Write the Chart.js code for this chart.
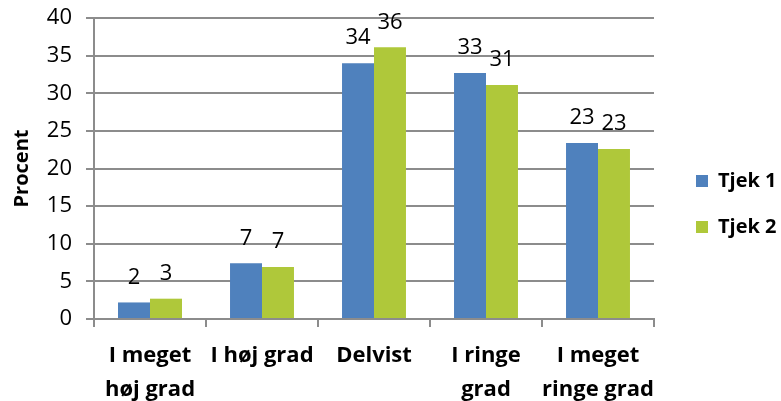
<!DOCTYPE html>
<html>
<head>
<meta charset="utf-8">
<script src="https://cdn.jsdelivr.net/npm/chart.js@4/dist/chart.umd.min.js"></script>
<style>
html,body{margin:0;padding:0;background:#fff;}
#wrap{width:781px;height:401px;position:relative;}
</style>
</head>
<body>
<div id="wrap"><canvas id="c" width="781" height="401"></canvas></div>
<script>
const categories = [["I meget", "høj grad"], "I høj grad", "Delvist", ["I ringe", "grad"], ["I meget", "ringe grad"]];
const seriesNames = ["Tjek 1", "Tjek 2"];
const tjek1 = [2.2, 7.4, 34.0, 32.7, 23.4];
const tjek2 = [2.7, 6.9, 36.1, 31.1, 22.6];
const yTicks = [0, 5, 10, 15, 20, 25, 30, 35, 40];
const yTitle = "Procent";

const FONT = "'Open Sans', 'Liberation Sans', sans-serif";
const GRID = '#8c8c8c';

const valueLabels = {
  id: 'valueLabels',
  afterDatasetsDraw(chart) {
    const ctx = chart.ctx;
    ctx.save();
    ctx.font = '22px ' + FONT;
    ctx.fillStyle = '#000';
    ctx.textAlign = 'center';
    ctx.textBaseline = 'middle';
    chart.data.datasets.forEach((ds, i) => {
      const meta = chart.getDatasetMeta(i);
      meta.data.forEach((el, j) => {
        ctx.fillText(String(Math.round(ds.data[j])), el.x, el.y - 25);
      });
    });
    ctx.restore();
  }
};

const legendPlace = {
  id: 'legendPlace',
  afterInit(chart) {
    const lg = chart.legend;
    if (lg) {
      const orig = lg.fit;
      lg.fit = function () { orig.call(this); this.width = 127; };
    }
  },
  afterLayout(chart) {
    const lg = chart.legend;
    if (lg) {
      const w = lg.width, h = lg.height;
      lg.left = 670; lg.right = lg.left + w;
      lg.top = 145; lg.bottom = lg.top + h;
    }
  }
};

new Chart(document.getElementById('c'), {
  type: 'bar',
  data: {
    labels: categories,
    datasets: [
      { label: seriesNames[0], data: tjek1, backgroundColor: '#4f81bd', borderWidth: 0 },
      { label: seriesNames[1], data: tjek2, backgroundColor: '#afc83a', borderWidth: 0 }
    ]
  },
  options: {
    responsive: false,
    animation: false,
    devicePixelRatio: 1,
    layout: { padding: { top: 18, left: 0, right: 0, bottom: 0 } },
    categoryPercentage: 0.571,
    barPercentage: 1.0,
    plugins: {
      legend: {
        position: 'right',
        align: 'start',
        labels: {
          boxWidth: 12, boxHeight: 12, padding: 26,
          color: '#000',
          font: { family: FONT, size: 20, weight: 'bold' }
        }
      },
      tooltip: { enabled: false }
    },
    scales: {
      x: {
        grid: { display: true, drawOnChartArea: false, drawTicks: true, tickLength: 8, color: GRID, lineWidth: 2 },
        border: { display: true, color: GRID, width: 2 },
        ticks: { color: '#000', font: { family: FONT, size: 22, weight: 'bold', lineHeight: 1.55 }, padding: 12, maxRotation: 0, autoSkip: false },
        afterFit(s) { s.height = 82; }
      },
      y: {
        min: yTicks[0], max: yTicks[yTicks.length - 1],
        afterBuildTicks(s) { s.ticks = yTicks.map(v => ({ value: v })); },
        grid: { color: GRID, lineWidth: 2, tickLength: 8, drawTicks: true },
        border: { display: true, color: GRID, width: 2 },
        ticks: { color: '#000', font: { family: FONT, size: 22 }, padding: 14 },
        title: { display: true, text: yTitle, color: '#000', font: { family: FONT, size: 20, weight: 'bold' }, padding: { top: 10, bottom: 0 } },
        afterFit(s) { s.width = 94; s.paddingTop = 0; s.paddingBottom = 0; }
      }
    }
  },
  plugins: [valueLabels, legendPlace]
});
</script>
</body>
</html>
